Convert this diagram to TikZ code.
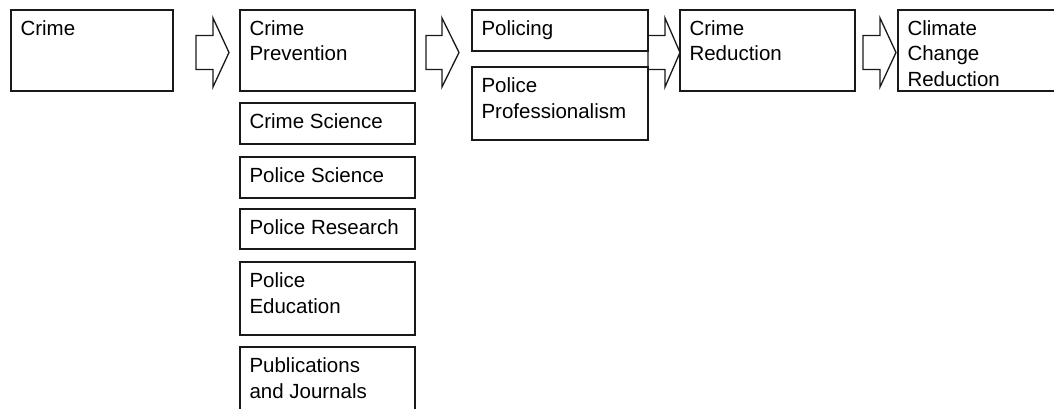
\documentclass[tikz,border=0pt]{standalone}
\usepackage{fontspec}
\setmainfont{Liberation Sans}
\usetikzlibrary{calc}
\newcommand\blockarrow[3]{\draw[barrow] (#1) ++(0,-17) -- ++(#2,0) -- ++(0,-17.5) -- ++(#3,34.5) -- ++(-#3,34.5) -- ++(0,-17.5) -- ++(-#2,0) -- cycle;}
\begin{document}
\begin{tikzpicture}[x=1pt,y=-1pt,
  box/.style={draw=black!90, line width=1.4pt, fill=white, rectangle, inner sep=0pt, outer sep=0pt, anchor=north west},
  lbl/.style={anchor=north west, inner sep=0pt, outer sep=0pt, align=left, font=\fontsize{20.5}{25.5}\selectfont, text=black},
  barrow/.style={draw=black!90, line width=1.3pt, fill=white, line join=miter}]
\useasboundingbox (0,0) rectangle (1054,409);
\clip (0,0) rectangle (1054,409);
% column 1
\node[box, minimum width=162pt, minimum height=81pt] (crime) at (11,10) {};
\node[lbl] (crimet) at ($(crime.north west)+(9.5,5.5)$) {\rule{0pt}{20pt}Crime};
% column 2
\node[box, minimum width=175pt, minimum height=81pt] (prev) at (240,10) {};
\node[lbl] (prevt) at ($(prev.north west)+(9.5,5.5)$) {\rule{0pt}{20pt}Crime\\Prevention};
\node[box, minimum width=175pt, minimum height=41pt] (sci) at (240,103) {};
\node[lbl] (scit) at ($(sci.north west)+(9.5,5.5)$) {\rule{0pt}{20pt}Crime Science};
\node[box, minimum width=175pt, minimum height=41pt] (psci) at (240,157) {};
\node[lbl] (pscit) at ($(psci.north west)+(9.5,5.5)$) {\rule{0pt}{20pt}Police Science};
\node[box, minimum width=175pt, minimum height=40pt] (pres) at (240,209) {};
\node[lbl] (prest) at ($(pres.north west)+(9.5,5.5)$) {\rule{0pt}{20pt}Police Research};
\node[box, minimum width=175pt, minimum height=73pt] (pedu) at (240,262) {};
\node[lbl] (pedut) at ($(pedu.north west)+(9.5,5.5)$) {\rule{0pt}{20pt}Police\\Education};
\node[box, minimum width=175pt, minimum height=75pt] (pub) at (240,347) {};
\node[lbl] (pubt) at ($(pub.north west)+(9.5,5.5)$) {\rule{0pt}{20pt}Publications\\and Journals};
% arrows 1 and 2
\coordinate (a1) at ($(crime.north east)+(23,42.5)$);
\blockarrow{a1}{17}{16}
\coordinate (a2) at ($(prev.north east)+(11,42.5)$);
\blockarrow{a2}{16}{17}
% arrow 3 (behind column 3)
\coordinate (a3) at (648,52.5);
\blockarrow{a3}{17}{15}
% column 3
\node[box, minimum width=176pt, minimum height=41pt] (pol) at (472,10) {};
\node[lbl] (polt) at ($(pol.north west)+(9.5,5.5)$) {\rule{0pt}{20pt}Policing};
\node[box, minimum width=176pt, minimum height=73pt] (prof) at (472,67) {};
\node[lbl] (proft) at ($(prof.north west)+(9.5,5.5)$) {\rule{0pt}{20pt}Police\\Professionalism};
% column 4
\node[box, minimum width=175pt, minimum height=81pt] (red) at (680,10) {};
\node[lbl] (redt) at ($(red.north west)+(9.5,5.5)$) {\rule{0pt}{20pt}Crime\\Reduction};
\coordinate (a4) at ($(red.north east)+(8,42.5)$);
\blockarrow{a4}{17}{16}
% column 5
\node[box, minimum width=175pt, minimum height=81pt] (clim) at (898,10) {};
\node[lbl] (climt) at ($(clim.north west)+(9.5,5.5)$) {\rule{0pt}{20pt}Climate\\Change\\Reduction};
\end{tikzpicture}
\end{document}
